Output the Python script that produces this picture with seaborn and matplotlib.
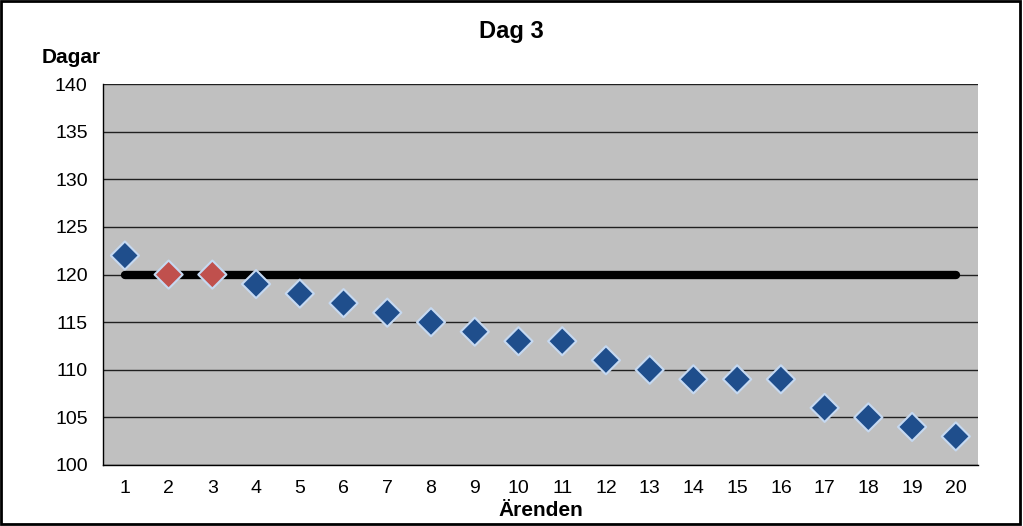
import matplotlib
matplotlib.use("Agg")
import matplotlib.pyplot as plt
import seaborn as sns
import pandas as pd
import numpy as np
from matplotlib.patches import Rectangle

categories = [str(i) for i in range(1, 21)]
values = [122, 120, 120, 119, 118, 117, 116, 115, 114, 113,
          113, 111, 110, 109, 109, 109, 106, 105, 104, 103]
status = ["ok", "limit", "limit"] + ["ok"] * 17
target = [120] * 20

sns.set_theme(style="white")
plt.rcParams['font.family'] = ['Liberation Sans', 'DejaVu Sans']
plt.rcParams['text.color'] = 'black'
plt.rcParams['axes.labelcolor'] = 'black'
plt.rcParams['xtick.color'] = 'black'
plt.rcParams['ytick.color'] = 'black'

df = pd.DataFrame({"Ärenden": categories, "Dagar": values, "status": status,
                   "pos": np.arange(len(categories)), "target": target})

fig = plt.figure(figsize=(10.23, 5.26), dpi=100)
ax = fig.add_axes([0.1007, 0.116, 0.855, 0.724])
ax.set_facecolor("#C0C0C0")

ax.plot(df["pos"], df["target"], color="black", lw=6, solid_capstyle="round", zorder=2)
sns.scatterplot(data=df, x="pos", y="Dagar", hue="status", style="status",
                markers={"ok": "D", "limit": "D"},
                palette={"ok": "#1F4E8C", "limit": "#C0504D"},
                s=205, edgecolor="#C6D9F1", linewidth=1.5, legend=False, ax=ax, zorder=3)

ax.set_xlim(-0.5, 19.5)
ax.set_ylim(100, 140)
ax.set_yticks(np.arange(100, 141, 5))
ax.set_xticks(np.arange(-0.5, 20, 1))
ax.set_xticklabels([])
ax.set_xticks(df["pos"], minor=True)
ax.set_xticklabels(categories, minor=True)
ax.tick_params(axis="x", which="major", length=6, width=1, color="black", direction="out")
ax.tick_params(axis="x", which="minor", length=0, pad=11, labelsize=14)
ax.tick_params(axis="y", length=6, width=1, color="black", direction="out", labelsize=14, pad=5)
ax.grid(axis="y", color="#202020", lw=1)
ax.set_axisbelow(True)
for side in ["left", "bottom"]:
    ax.spines[side].set_color("black")
    ax.spines[side].set_linewidth(1)
for side in ["top", "right"]:
    ax.spines[side].set_visible(False)
ax.set_xlabel("Ärenden", fontsize=15, fontweight="bold", labelpad=3)
ax.set_ylabel("")
fig.text(0.0695, 0.891, "Dagar", ha="center", va="center", fontsize=15, fontweight="bold")
fig.text(0.5, 0.941, "Dag 3", ha="center", va="center", fontsize=17, fontweight="bold")

fig.patches.append(Rectangle((0.001, 0.004), 0.996, 0.994, transform=fig.transFigure,
                             fill=False, edgecolor="black", lw=2))
fig.savefig("out.png", dpi=100)
